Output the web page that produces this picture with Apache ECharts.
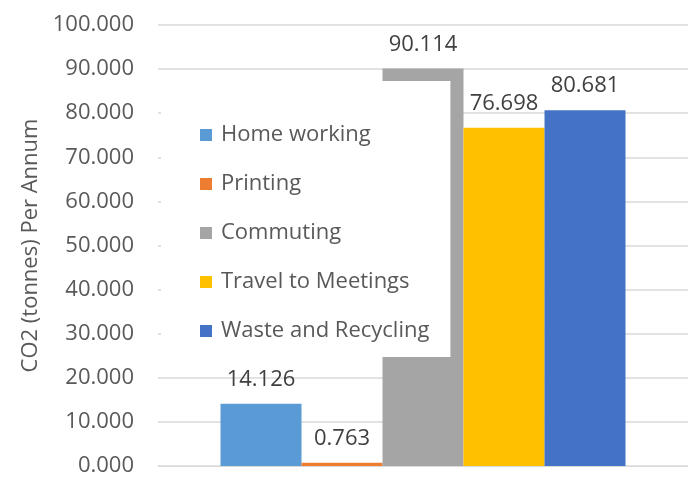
<!DOCTYPE html>
<html>
<head>
<meta charset="utf-8">
<script src="https://cdn.jsdelivr.net/npm/echarts@6/dist/echarts.min.js"></script>
<style>
html,body{margin:0;padding:0;background:#fff;}
#main{width:694px;height:477px;}
</style>
</head>
<body>
<div id="main"></div>
<script>
// 数据
var seriesNames = ['Home working', 'Printing', 'Commuting', 'Travel to Meetings', 'Waste and Recycling'];
var seriesValues = [14.126, 0.763, 90.114, 76.698, 80.681];
var seriesColors = ['#5B9BD5', '#ED7D31', '#A5A5A5', '#FFC000', '#4472C4'];
var category = [''];
var yName = 'CO2 (tonnes) Per Annum';

var FONT = 'Open Sans';
var myChart = echarts.init(document.getElementById('main'));

var option = {
	textStyle: {fontFamily: FONT},
	legend: {
		orient: 'vertical',
		left: 161,
		top: 81,
		backgroundColor: '#fff',
		padding: [43, 21, 15, 39],
		itemWidth: 12,
		itemHeight: 12,
		itemGap: 27,
		icon: 'rect',
		textStyle: {fontSize: 22, color: '#595959', fontFamily: FONT, padding: [0, 0, 0, 4]},
		data: seriesNames
	},
	grid: {left: 158, right: 6, top: 25, bottom: 9},
	xAxis: {
		type: 'category',
		data: category,
		axisLine: {lineStyle: {color: '#d9d9d9'}},
		axisTick: {show: false},
		axisLabel: {show: false}
	},
	yAxis: {
		type: 'value',
		min: 0,
		max: 100,
		interval: 10,
		name: yName,
		nameLocation: 'middle',
		nameGap: 115,
		nameTextStyle: {fontSize: 22, color: '#595959', fontFamily: FONT},
		axisLine: {show: false},
		axisTick: {show: false},
		axisLabel: {
			fontSize: 22, color: '#595959', margin: 24,
			formatter: function(v){ return v.toFixed(3); }
		},
		splitLine: {lineStyle: {color: '#d9d9d9', width: 1.5}}
	},
	series: (function(){
		var res = [];
		for (var i = 0; i < seriesNames.length; i++) {
			res.push({
				name: seriesNames[i],
				type: 'bar',
				data: [seriesValues[i]],
				barWidth: 81,
				barGap: '0%',
				itemStyle: {color: seriesColors[i]},
				label: {
					show: true,
					position: 'top',
					distance: 13,
					fontSize: 22,
					color: '#404040',
					fontFamily: FONT,
					formatter: function(p){ return p.value.toFixed(3); }
				}
			});
		}
		return res;
	})()
};

myChart.setOption(option);
</script>
</body>
</html>
